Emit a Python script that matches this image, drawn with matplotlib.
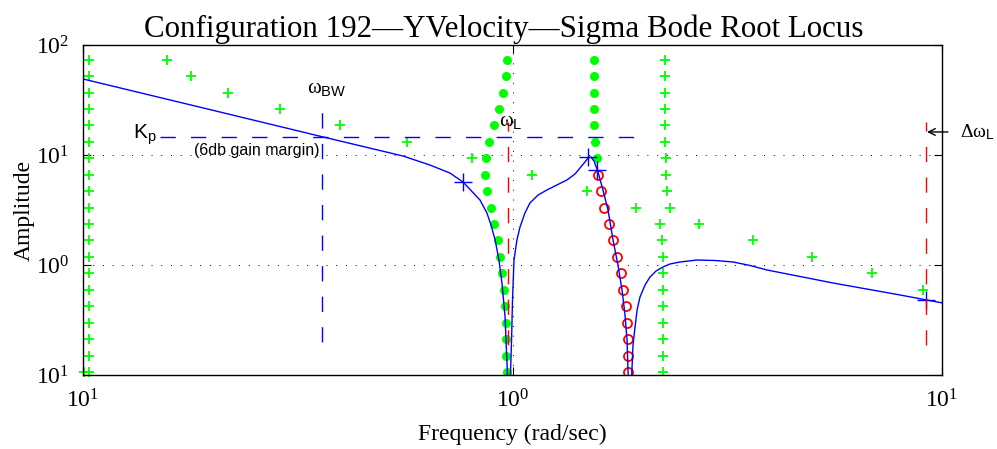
import matplotlib
matplotlib.use("Agg")
import matplotlib.pyplot as plt
from matplotlib.ticker import NullLocator

plt.rcParams['mathtext.fontset'] = 'custom'
plt.rcParams['mathtext.rm'] = 'Liberation Serif'
plt.rcParams['mathtext.it'] = 'Liberation Serif:italic'
plt.rcParams['mathtext.sf'] = 'Liberation Sans'
plt.rcParams['mathtext.bf'] = 'Liberation Serif:bold'

# magnitude levels shared by the root locus markers
levels = [73.1, 52.3, 36.6, 26.2, 18.7, 13.1, 9.39, 6.58, 4.71, 3.30,
          2.36, 1.69, 1.18, 0.846, 0.593, 0.424, 0.297, 0.212, 0.149, 0.106]

# Bode magnitude curve
bode_w = [0.1, 0.1903, 0.362, 0.556, 0.642, 0.715, 0.767, 0.840, 0.872, 0.891,
          0.911, 0.930, 0.945, 0.961, 0.968, 0.9736, 0.981, 0.989, 0.995, 1.000,
          1.008, 1.024, 1.041, 1.069, 1.098, 1.147, 1.203, 1.269, 1.339, 1.398,
          1.436, 1.475, 1.499, 1.523, 1.548, 1.582, 1.624, 1.669, 1.714, 1.760,
          1.799, 1.828, 1.848, 1.858, 1.873, 1.888, 1.897, 1.908, 1.929, 1.950,
          1.981, 2.035, 2.090, 2.159, 2.241, 2.326, 2.455, 2.689, 2.961, 3.262,
          3.573, 3.913, 5.576, 7.985, 10.05]
bode_mag = [49.1, 26.8, 14.6, 9.79, 8.11, 6.86, 5.68, 3.90, 2.97, 2.31,
            1.69, 1.11, 0.686, 0.337, 0.169, 0.1, 0.066, 0.1, 0.208, 0.480,
            1.11, 1.69, 2.21, 2.97, 3.66, 4.33, 4.81, 5.34, 5.93, 6.72,
            7.62, 8.64, 9.39, 9.59, 8.82, 7.00, 4.81, 3.16, 1.69, 1.0,
            0.593, 0.351, 0.208, 0.106, 0.07, 0.07, 0.111, 0.187, 0.273, 0.390,
            0.512, 0.658, 0.778, 0.882, 0.959, 1.021, 1.065, 1.11, 1.099, 1.065,
            0.990, 0.901, 0.686, 0.534, 0.451]

# green plus markers
plus_left_w = [0.1032] * 20 + [0.1005]
plus_left_m = levels + [0.106]
plus_diag_w = [0.1569, 0.1784, 0.2176, 0.2875, 0.3966, 0.5680, 0.8048, 1.110,
               1.491, 1.939, 2.718, 3.631, 4.982, 6.871, 9.031]
plus_diag_m = levels[:15]
plus_right_w = [2.265] * 6 + [2.277, 2.277, 2.290, 2.326, 2.205, 2.229] + [2.241] * 8
plus_right_m = levels

# green filled dots
dot_left_w = [0.971, 0.966, 0.950, 0.930, 0.906, 0.882, 0.868, 0.863, 0.872, 0.891,
              0.906, 0.925, 0.935, 0.945, 0.955, 0.961, 0.966, 0.966, 0.966, 0.971]
dot_left_m = levels
dot_right_w = [1.548, 1.548, 1.548, 1.552, 1.552, 1.556, 1.573]
dot_right_m = levels[:7]

# red open circles
circ_w = [1.582, 1.608, 1.633, 1.678, 1.714, 1.751, 1.789, 1.808, 1.838, 1.848,
          1.858, 1.858, 1.858]
circ_m = levels[7:]

# blue cross markers
cross_w = [0.767, 1.499, 1.573, 9.18]
cross_m = [5.68, 9.6, 7.30, 0.480]

# reference lines
kp = 14.6
kp_span = [0.151, 1.97]
w_bw = 0.360
bw_span = [0.2, 24.6]
w_l = 0.976
dw_l = 9.18
red_span = [0.187, 19.8]

fig = plt.figure(figsize=(9.97, 4.49), dpi=100)
ax = fig.add_axes([83 / 997, 1 - 375 / 449, (942 - 83) / 997, (375 - 45) / 449])
ax.set_xscale('log')
ax.set_yscale('log')

ax.plot(plus_left_w, plus_left_m, '+', color='#00ff00', ms=7, mew=1.3, clip_on=False)
ax.plot(plus_diag_w, plus_diag_m, '+', color='#00ff00', ms=7, mew=1.3)
ax.plot(plus_right_w, plus_right_m, '+', color='#00ff00', ms=7, mew=1.3)
ax.plot(dot_left_w, dot_left_m, 'o', color='#00ff00', ms=6.5, mew=0)
ax.plot(dot_right_w, dot_right_m, 'o', color='#00ff00', ms=6.5, mew=0)
ax.plot(circ_w, circ_m, 'o', mfc='none', mec='#ff0000', ms=6.5, mew=1.3)

ax.plot(bode_w, bode_mag, color='#0000ff', lw=1.0)
ax.plot(cross_w, cross_m, '+', color='#0000ff', ms=13, mew=1.0)

ax.plot(kp_span, [kp, kp], color='#0000ff', lw=1.0, dashes=(11, 11))
ax.plot([w_bw, w_bw], bw_span, color='#0000ff', lw=1.0, dashes=(11, 11))
ax.plot([w_l, w_l], red_span, color='#ff0000', lw=1.0, dashes=(11, 11))
ax.plot([dw_l, dw_l], red_span, color='#ff0000', lw=1.0, dashes=(11, 11))

ax.text(0.1307, 14.0, r'$\mathsf{K}_{\mathsf{p}}$', fontsize=15, va='baseline')
ax.text(0.1813, 10.0, '(6db gain margin)', fontsize=11.5, family='Liberation Sans',
        va='baseline')
ax.text(0.3322, 36.6, r'$\mathrm{\omega}_{\mathsf{BW}}$', fontsize=15, va='baseline')
ax.text(0.930, 18.3, r'$\mathrm{\omega}_{\mathsf{L}}$', fontsize=15, va='baseline')
ax.annotate('', xy=(9.23, 16.2), xytext=(10.32, 16.2), annotation_clip=False,
            arrowprops=dict(arrowstyle='->', color='k', lw=1.0,
                            shrinkA=0, shrinkB=0, mutation_scale=12))
ax.text(11.02, 14.4, r'$\mathrm{\Delta\omega}_{\mathsf{L}}$', fontsize=14,
        va='baseline')

ax.set_xlim(0.1, 10)
ax.set_ylim(0.1, 100)
ax.set_xticks([0.1, 1, 10])
ax.set_xticklabels([r'$10^{1}$', r'$10^{0}$', r'$10^{1}$'])
ax.set_yticks([0.1, 1, 10, 100])
ax.set_yticklabels([r'$10^{1}$', r'$10^{0}$', r'$10^{1}$', r'$10^{2}$'])
ax.xaxis.set_minor_locator(NullLocator())
ax.yaxis.set_minor_locator(NullLocator())
ax.tick_params(direction='in', top=True, right=True, length=6, width=0.8,
               labelsize=17, pad=10)
ax.grid(True, which='major', color='k', ls=(0, (1, 9)), lw=0.7)
for s in ax.spines.values():
    s.set_linewidth(1.0)

ax.set_xlabel('Frequency (rad/sec)', family='Liberation Serif', fontsize=17, labelpad=8)
ax.set_ylabel('Amplitude', family='Liberation Serif', fontsize=17, labelpad=1)
ax.set_title('Configuration 192\u2014YVelocity\u2014Sigma Bode Root Locus',
             family='Liberation Serif', fontsize=22.3, pad=6, x=0.4895)

fig.savefig('out.png', dpi=100)
